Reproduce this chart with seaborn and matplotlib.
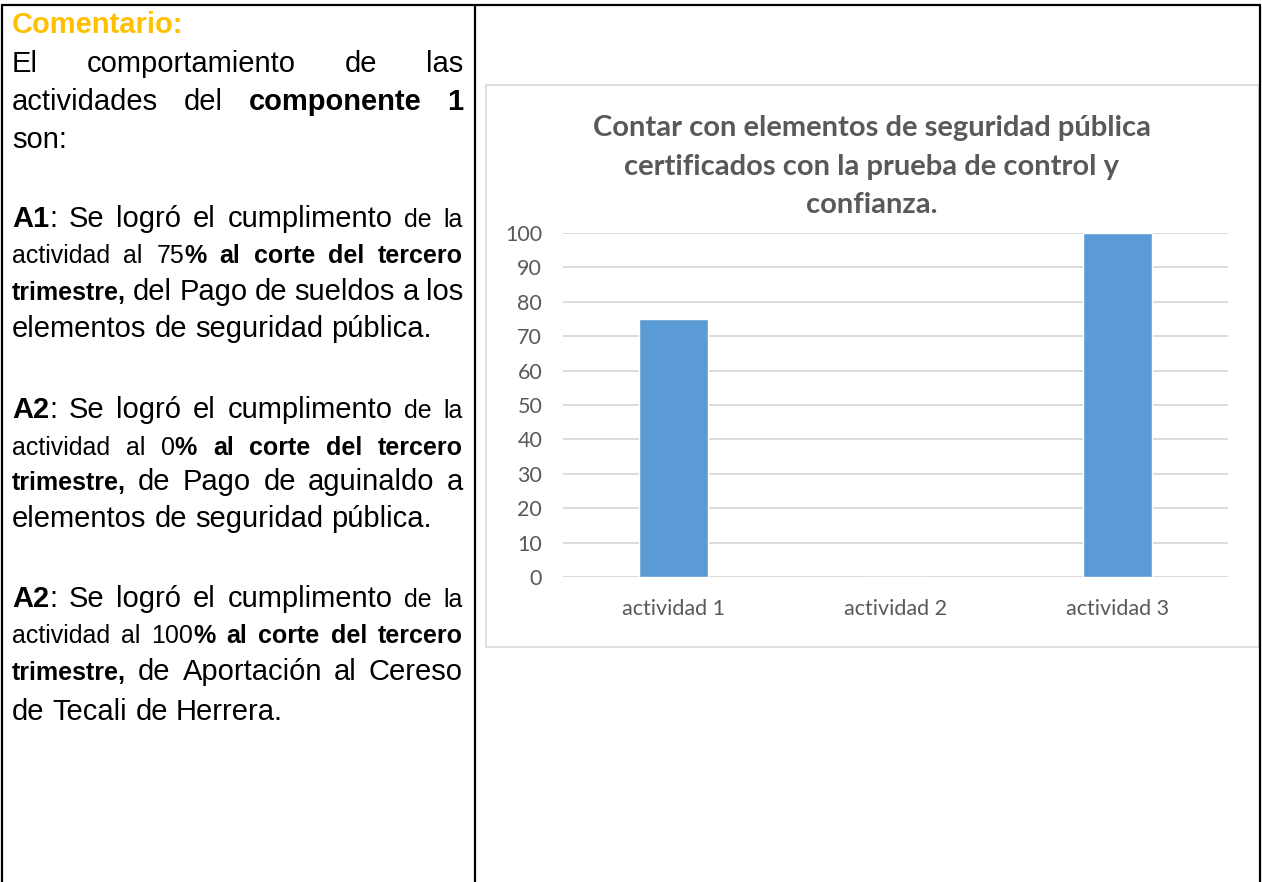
import matplotlib
matplotlib.use("Agg")
import matplotlib.pyplot as plt
import seaborn as sns
from matplotlib.lines import Line2D
from matplotlib.patches import Rectangle

# --- chart data ---------------------------------------------------------------
categories = ["actividad 1", "actividad 2", "actividad 3"]
values = [75, 0, 100]
y_ticks = [0, 10, 20, 30, 40, 50, 60, 70, 80, 90, 100]
chart_title = ["Contar con elementos de seguridad pública",
               "certificados con la prueba de control y",
               "confianza."]

# --- comment column: (baseline y, justify?, runs) -----------------------------
# run styles: R = regular big, r = regular small, B = bold big, b = bold small
comment_lines = [
    (72, True, [("El comportamiento de las", "R")]),
    (110, True, [("actividades del ", "R"), ("componente 1", "B")]),
    (148, False, [("son:", "R")]),
    (227, True, [("A1", "B"), (": Se logró el cumplimento", "R"), (" de la", "r")]),
    (263, True, [("actividad al 75", "r"), ("% al corte del tercero", "b")]),
    (300, True, [("trimestre,", "b"), (" del Pago de sueldos a los", "R")]),
    (337, False, [("elementos de seguridad pública.", "R")]),
    (418, True, [("A2", "B"), (": Se logró el cumplimento", "R"), (" de la", "r")]),
    (455, True, [("actividad al 0", "r"), ("% al corte del tercero", "b")]),
    (490, True, [("trimestre,", "b"), (" de Pago de aguinaldo a", "R")]),
    (527, False, [("elementos de seguridad pública.", "R")]),
    (607, True, [("A2", "B"), (": Se logró el cumplimento", "R"), (" de la", "r")]),
    (643, True, [("actividad al 100", "r"), ("% al corte del tercero", "b")]),
    (680, True, [("trimestre,", "b"), (" de Aportación al Cereso", "R")]),
    (720, False, [("de Tecali de Herrera.", "R")]),
]

W, H = 1262, 882
BAR = "#5B9BD5"
GREY_TXT = "#595959"
GRID = "#D9D9D9"
STYLES = {"R": ("normal", 21), "r": ("normal", 18), "B": ("bold", 21), "b": ("bold", 18)}
BODY_FONT = "Liberation Sans"
CHART_FONT = "Lato"


def fx(x):
    return x / W


def fy(y):
    return 1 - y / H


sns.set_style("white")
plt.rcParams["font.family"] = [CHART_FONT, "DejaVu Sans"]

fig = plt.figure(figsize=(W / 100, H / 100), dpi=100)
renderer = fig.canvas.get_renderer()

# --- table borders ------------------------------------------------------------
for xs, ys in [((2, 1260), (5, 5)), ((2, 2), (5, H)), ((475, 475), (5, H)), ((1260, 1260), (5, H))]:
    fig.add_artist(Line2D([fx(x) for x in xs], [fy(y) for y in ys], color="black", lw=1.6,
                          transform=fig.transFigure))

# --- comment text -------------------------------------------------------------
fig.text(fx(12), fy(33), "Comentario:", color="#FFC000", fontsize=21, fontweight="bold",
         family=BODY_FONT, va="baseline")

LEFT, RIGHT = 12, 463


def split_words(runs):
    words, new_word = [], True
    for text, st in runs:
        for i, part in enumerate(text.split(" ")):
            if i > 0:
                new_word = True
            if part == "":
                continue
            if new_word:
                words.append([])
                new_word = False
            words[-1].append((part, st))
    return words


for y, justify, runs in comment_lines:
    words = split_words(runs)
    placed = []
    for word in words:
        pieces = []
        for part, st in word:
            weight, size = STYLES[st]
            t = fig.text(0, fy(y), part, fontsize=size, fontweight=weight, family=BODY_FONT,
                         va="baseline", color="black")
            w = t.get_window_extent(renderer).width
            pieces.append((t, w))
        placed.append(pieces)
    widths = [sum(w for _, w in p) for p in placed]
    if justify and len(placed) > 1:
        gap = (RIGHT - LEFT - sum(widths)) / (len(placed) - 1)
    else:
        gap = 0.278 * 21 * 100 / 72
    x = LEFT
    for pieces, wsum in zip(placed, widths):
        px = x
        for t, w in pieces:
            t.set_x(fx(px))
            px += w
        x += wsum + gap

# --- chart frame --------------------------------------------------------------
fig.add_artist(Rectangle((fx(486), fy(647)), (1259 - 486) / W, (647 - 85) / H,
                         transform=fig.transFigure, fill=False, ec=GRID, lw=1.2))

for i, line in enumerate(chart_title):
    fig.text(fx(872), fy(136 + i * 38.5), line, ha="center", va="baseline",
             fontsize=21, fontweight="bold", color=GREY_TXT)

ax = fig.add_axes([fx(563), fy(577), (1228 - 563) / W, (577 - 233) / H])
sns.barplot(x=categories, y=values, color=BAR, saturation=1, width=0.31, ax=ax)
ax.set_ylim(0, 100)
ax.set_yticks(y_ticks)
ax.set_xlim(-0.5, 2.5)
ax.yaxis.grid(True, color=GRID, lw=1.3)
ax.set_axisbelow(True)
for side in ("top", "bottom", "left", "right"):
    ax.spines[side].set_visible(False)
ax.tick_params(axis="both", length=0, labelcolor=GREY_TXT, labelsize=15.5)
ax.tick_params(axis="y", pad=15)
ax.tick_params(axis="x", pad=16)
ax.set_xlabel("")
ax.set_ylabel("")
ax.patch.set_alpha(0)

fig.savefig("out.png", dpi=100)
